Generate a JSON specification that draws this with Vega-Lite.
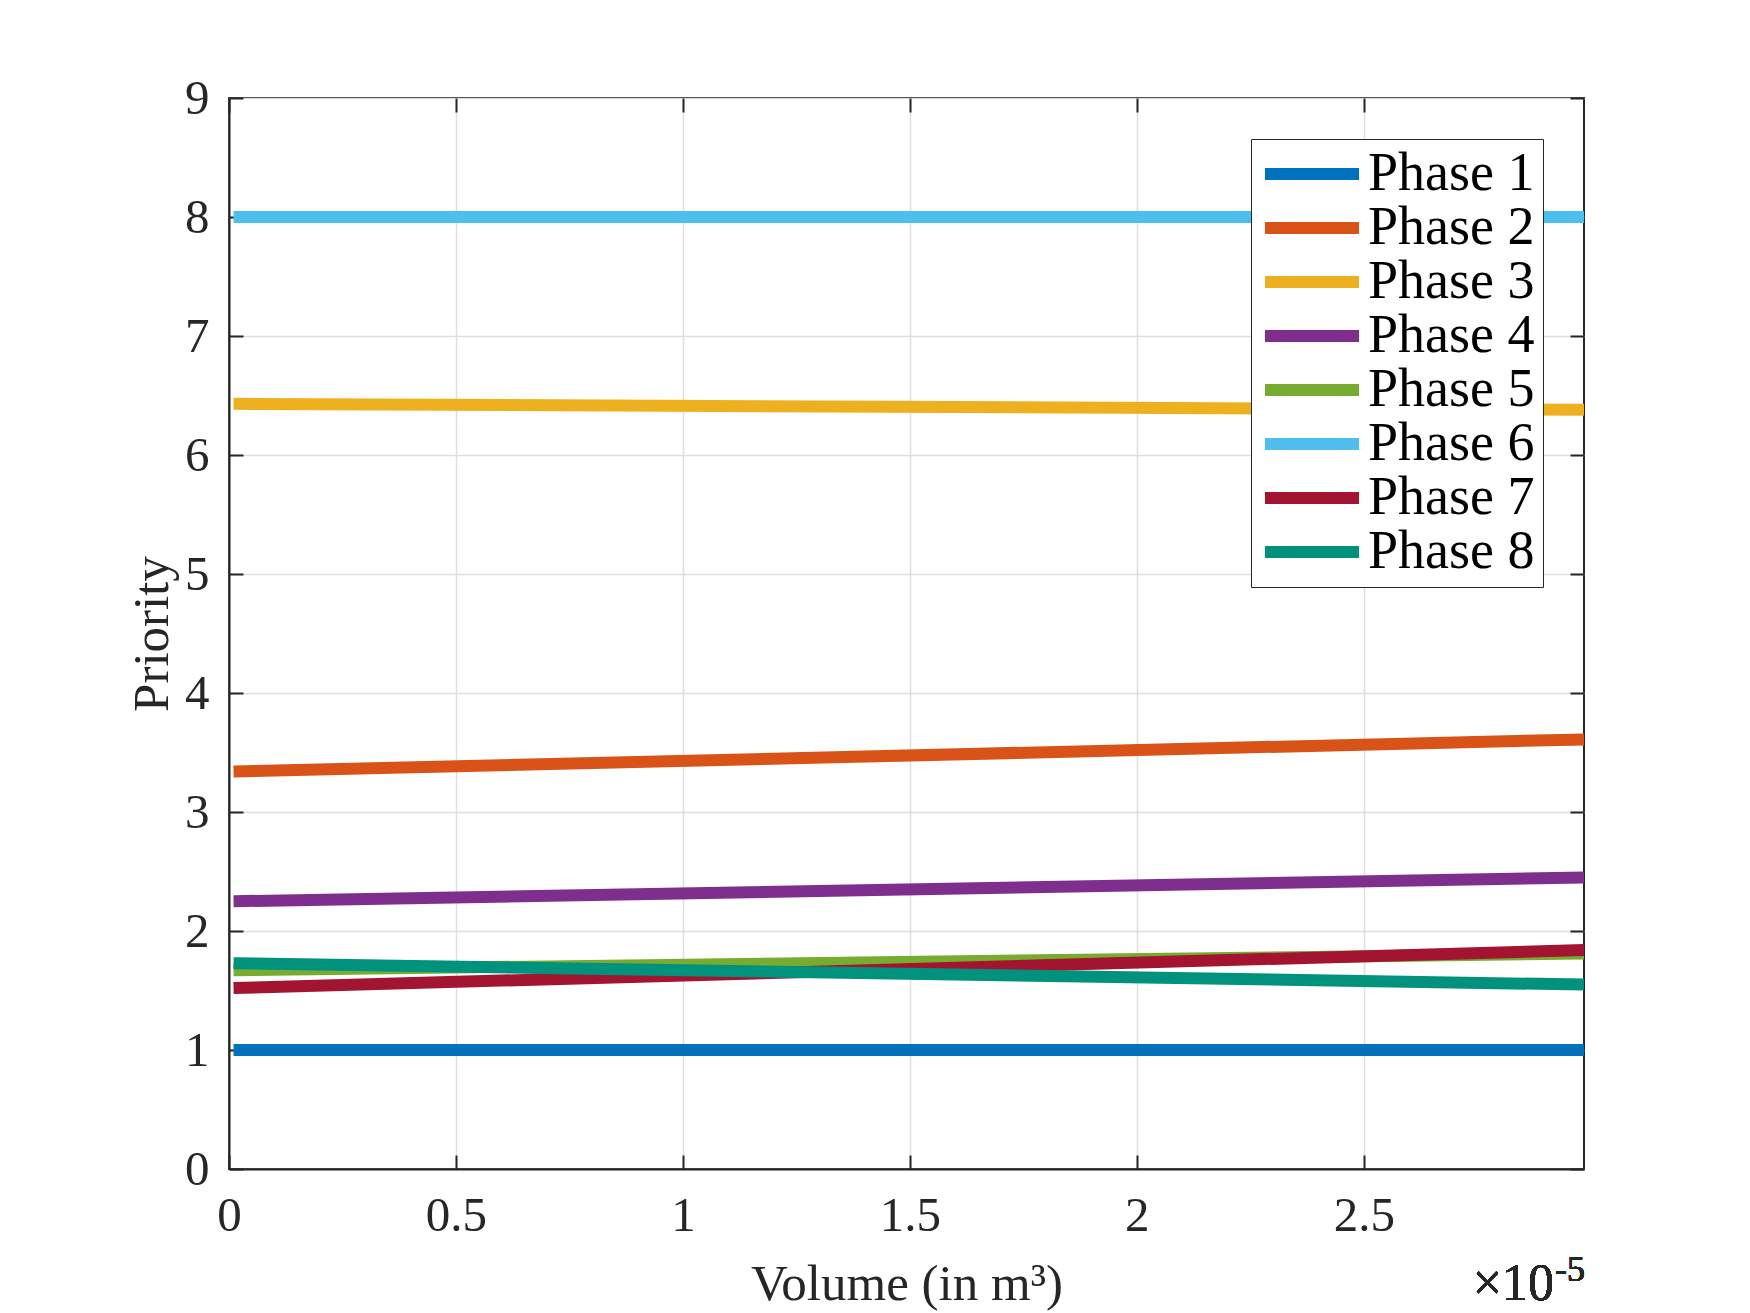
{
  "$schema": "https://vega.github.io/schema/vega-lite/v6.json",
  "width": 1355,
  "height": 1071,
  "autosize": "none",
  "padding": {"left": 229, "top": 98, "right": 166, "bottom": 144},
  "background": "white",
  "config": {
    "font": "Liberation Serif",
    "view": {"stroke": "#262626", "strokeWidth": 2},
    "axis": {
      "domainColor": "#262626",
      "domainWidth": 2,
      "tickColor": "#262626",
      "tickWidth": 2,
      "labelColor": "#262626",
      "titleColor": "#262626",
      "labelFont": "Liberation Serif",
      "titleFont": "Liberation Serif",
      "labelFontSize": 49,
      "titleFontSize": 51,
      "titleFontWeight": "normal",
      "labelFlush": false,
      "gridColor": "#dfdfdf",
      "gridWidth": 1.5
    }
  },
  "data": {
    "values": [
      {"phase": "Phase 1", "volume": 0.0000001, "priority": 1.0},
      {"phase": "Phase 1", "volume": 0.00002985, "priority": 1.0},
      {"phase": "Phase 2", "volume": 0.0000001, "priority": 3.34},
      {"phase": "Phase 2", "volume": 0.00002985, "priority": 3.61},
      {"phase": "Phase 3", "volume": 0.0000001, "priority": 6.43},
      {"phase": "Phase 3", "volume": 0.00002985, "priority": 6.38},
      {"phase": "Phase 4", "volume": 0.0000001, "priority": 2.25},
      {"phase": "Phase 4", "volume": 0.00002985, "priority": 2.45},
      {"phase": "Phase 5", "volume": 0.0000001, "priority": 1.67},
      {"phase": "Phase 5", "volume": 0.00002985, "priority": 1.81},
      {"phase": "Phase 6", "volume": 0.0000001, "priority": 8.0},
      {"phase": "Phase 6", "volume": 0.00002985, "priority": 8.0},
      {"phase": "Phase 7", "volume": 0.0000001, "priority": 1.52},
      {"phase": "Phase 7", "volume": 0.00002985, "priority": 1.84},
      {"phase": "Phase 8", "volume": 0.0000001, "priority": 1.73},
      {"phase": "Phase 8", "volume": 0.00002985, "priority": 1.55}
    ]
  },
  "layer": [
    {
      "mark": {"type": "line", "strokeWidth": 12, "strokeCap": "butt", "clip": true},
      "encoding": {
        "x": {
          "field": "volume",
          "type": "quantitative",
          "scale": {"domain": [0, 0.00002985], "nice": false, "zero": false},
          "axis": {
            "orient": "bottom",
            "values": [0, 0.000005, 0.00001, 0.000015, 0.00002, 0.000025],
            "labelExpr": "format(datum.value * 1e5, '~g')",
            "tickSize": -14,
            "labelPadding": 36,
            "grid": true,
            "title": "Volume (in m³)",
            "titlePadding": 19
          }
        },
        "y": {
          "field": "priority",
          "type": "quantitative",
          "scale": {"domain": [0, 9], "nice": false},
          "axis": {
            "orient": "left",
            "values": [0, 1, 2, 3, 4, 5, 6, 7, 8, 9],
            "tickSize": -14,
            "labelPadding": 34,
            "grid": true,
            "title": "Priority",
            "titlePadding": 6
          }
        },
        "color": {
          "field": "phase",
          "type": "nominal",
          "scale": {
            "domain": ["Phase 1", "Phase 2", "Phase 3", "Phase 4", "Phase 5", "Phase 6", "Phase 7", "Phase 8"],
            "range": ["#0072BD", "#D95319", "#EDB120", "#7E2F8E", "#77AC30", "#4DBEEE", "#A2142F", "#00927C"]
          },
          "legend": {
            "orient": "top-right",
            "offset": 41,
            "title": null,
            "strokeColor": "#262626",
            "fillColor": "white",
            "padding": 8,
            "cornerRadius": 0,
            "symbolType": "stroke",
            "symbolSize": 8836,
            "symbolStrokeWidth": 12,
            "clipHeight": 54,
            "labelFont": "Liberation Serif",
            "labelFontSize": 54,
            "labelColor": "#000000",
            "labelOffset": 3,
            "labelLimit": 400,
            "rowPadding": 0
          }
        }
      }
    },
    {
      "mark": {"type": "text", "align": "right", "baseline": "alphabetic", "fontSize": 52, "dx": -30, "dy": 131, "color": "#262626"},
      "encoding": {
        "x": {
          "datum": 0.00002985,
          "type": "quantitative",
          "axis": {"orient": "top", "values": [0, 0.000005, 0.00001, 0.000015, 0.00002, 0.000025], "labels": false, "domain": false, "grid": false, "tickSize": -14, "title": null}
        },
        "y": {
          "datum": 0,
          "type": "quantitative",
          "axis": {"orient": "right", "values": [0, 1, 2, 3, 4, 5, 6, 7, 8, 9], "labels": false, "domain": false, "grid": false, "tickSize": -14, "title": null}
        },
        "text": {"value": "×10"}
      }
    },
    {
      "mark": {"type": "text", "align": "right", "baseline": "alphabetic", "fontSize": 36, "dx": 1, "dy": 112, "color": "#262626"},
      "encoding": {
        "x": {"datum": 0.00002985, "type": "quantitative", "axis": null},
        "y": {"datum": 0, "type": "quantitative", "axis": null},
        "text": {"value": "-5"}
      }
    }
  ],
  "resolve": {"axis": {"x": "independent", "y": "independent"}}
}
